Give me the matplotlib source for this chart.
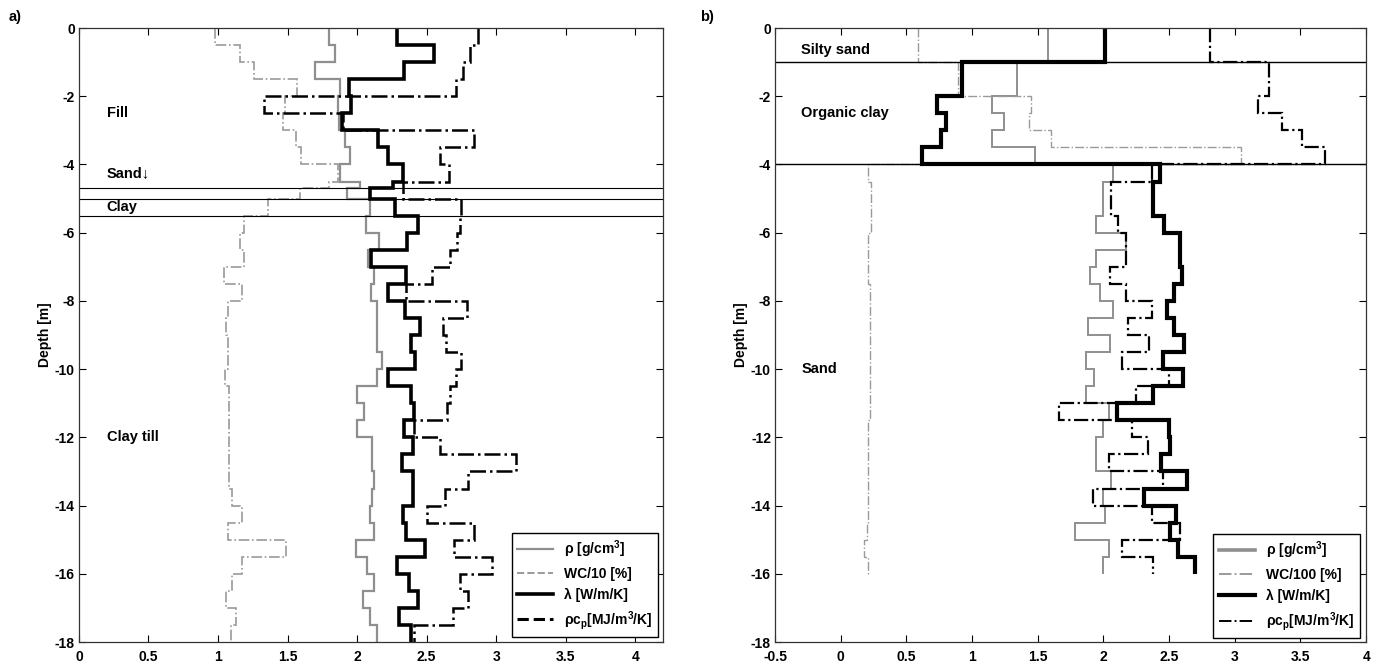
import numpy as np
import matplotlib
matplotlib.use('Agg')
import matplotlib.pyplot as plt
from matplotlib.lines import Line2D

plt.rcParams['font.family'] = ['Liberation Sans Narrow', 'Liberation Sans', 'DejaVu Sans']
plt.rcParams['font.weight'] = 'bold'
plt.rcParams['axes.labelweight'] = 'bold'
plt.rcParams['font.size'] = 10

# ---- panel a: depth intervals [m] and measured profiles ----
edges_a = [0, -0.5, -1, -1.5, -2, -2.5, -3, -3.5, -4, -4.5, -4.7, -5, -5.5,
           -6, -6.5, -7, -7.5, -8, -8.5, -9, -9.5, -10, -10.5, -11, -11.5,
           -12, -12.5, -13, -13.5, -14, -14.5, -15, -15.5, -16, -16.5, -17,
           -17.5, -18]
rho_a = [1.80, 1.84, 1.70, 1.88, 1.86, 1.87, 1.91, 1.95, 1.88, 2.02, 1.93,
         2.09, 2.065, 2.16, 2.08, 2.12, 2.10, 2.14, 2.14, 2.14, 2.18, 2.14,
         2.00, 2.05, 2.00, 2.11, 2.11, 2.12, 2.11, 2.09, 2.12, 1.99, 2.07,
         2.12, 2.04, 2.09, 2.14]
wc_a = [0.98, 1.16, 1.26, 1.57, 1.48, 1.47, 1.56, 1.60, 1.86, 1.80, 1.59,
        1.36, 1.19, 1.16, 1.19, 1.04, 1.17, 1.07, 1.06, 1.07, 1.07, 1.05,
        1.08, 1.08, 1.08, 1.08, 1.08, 1.08, 1.10, 1.17, 1.07, 1.49, 1.17,
        1.10, 1.06, 1.13, 1.09]
lam_a = [2.29, 2.55, 2.34, 1.945, 1.96, 1.89, 2.15, 2.22, 2.33, 2.26, 2.09,
         2.27, 2.44, 2.36, 2.10, 2.35, 2.225, 2.345, 2.45, 2.39, 2.42, 2.225,
         2.385, 2.41, 2.34, 2.405, 2.32, 2.40, 2.40, 2.33, 2.35, 2.49, 2.285,
         2.37, 2.44, 2.30, 2.39]
cp_a = [2.87, 2.81, 2.76, 2.71, 1.33, 1.90, 2.84, 2.60, 2.66, 2.33, 2.33,
        2.75, 2.74, 2.72, 2.67, 2.54, 2.35, 2.79, 2.62, 2.64, 2.75, 2.71,
        2.67, 2.65, 2.41, 2.60, 3.14, 2.80, 2.63, 2.50, 2.84, 2.70, 2.97,
        2.74, 2.80, 2.69, 2.41]
layers_a = [-4.7, -5.0, -5.5]
labels_a = [('Fill', -2.5), ('Sand\u2193', -4.45), ('Clay', -5.25), ('Clay till', -12.0)]

# ---- panel b ----
edges_b = [0, -1, -2, -2.5, -3, -3.5, -4, -4.5, -5, -5.5, -6, -6.5, -7,
           -7.5, -8, -8.5, -9, -9.5, -10, -10.5, -11, -11.5, -12, -12.5,
           -13, -13.5, -14, -14.5, -15, -15.5, -16]
rho_b = [1.58, 1.34, 1.15, 1.245, 1.15, 1.48, 2.07, 2.00, 2.00, 1.94, 2.17,
         1.94, 1.90, 1.975, 2.07, 1.885, 2.05, 1.87, 1.93, 1.87, 2.04, 2.00,
         1.94, 1.94, 2.06, 2.00, 2.01, 1.78, 2.04, 2.00]
wc_b = [0.59, 0.89, 1.445, 1.435, 1.60, 3.05, 0.21, 0.23, 0.23, 0.23, 0.21,
        0.21, 0.21, 0.22, 0.22, 0.22, 0.22, 0.22, 0.22, 0.22, 0.22, 0.21,
        0.21, 0.21, 0.21, 0.21, 0.21, 0.20, 0.18, 0.21]
lam_b = [2.01, 0.92, 0.73, 0.80, 0.76, 0.615, 2.43, 2.375, 2.375, 2.46,
         2.58, 2.58, 2.595, 2.54, 2.48, 2.54, 2.61, 2.45, 2.605, 2.375, 2.10,
         2.50, 2.51, 2.44, 2.635, 2.31, 2.555, 2.51, 2.57, 2.70]
cp_b = [2.81, 3.26, 3.18, 3.36, 3.51, 3.69, 2.37, 2.06, 2.06, 2.11, 2.17,
        2.17, 2.05, 2.17, 2.37, 2.19, 2.35, 2.14, 2.50, 2.25, 1.665, 2.22,
        2.34, 2.04, 2.45, 1.92, 2.37, 2.58, 2.14, 2.375]
layers_b = [-1.0, -4.0]
labels_b = [('Silty sand', -0.65), ('Organic clay', -2.5), ('Sand', -10.0)]

GREY = '#8f8f8f'

fig = plt.figure(figsize=(13.78, 6.62), dpi=100)
ax_a = fig.add_axes([0.0573, 0.0302, 0.4238, 0.9275])
ax_b = fig.add_axes([0.5625, 0.0302, 0.4289, 0.9275])


def profile(ax, edges, vals, **kw):
    ax.stairs(vals, edges, orientation='horizontal', baseline=None, **kw)


# panel a
profile(ax_a, edges_a, rho_a, color=GREY, lw=1.6)
profile(ax_a, edges_a, wc_a, color='#9a9a9a', lw=1.2, linestyle='-.')
profile(ax_a, edges_a, lam_a, color='black', lw=2.6)
profile(ax_a, edges_a, cp_a, color='black', lw=1.8, linestyle='-.')
for d in layers_a:
    ax_a.axhline(d, color='black', lw=0.8)
for txt, d in labels_a:
    ax_a.text(0.2, d, txt, va='bottom' if txt.startswith('Sand') else 'center',
              ha='left', fontsize=10.5)
ax_a.set_xlim(0, 4.2)
ax_a.set_xticks(np.arange(0, 4.01, 0.5))
ax_a.set_xticklabels(['0', '0.5', '1', '1.5', '2', '2.5', '3', '3.5', '4'])

handles_a = [
    Line2D([], [], color=GREY, lw=1.6),
    Line2D([], [], color='#9a9a9a', lw=1.4, linestyle='--'),
    Line2D([], [], color='black', lw=2.6),
    Line2D([], [], color='black', lw=2.2, linestyle='--'),
]
leg_labels_a = ['\u03c1 [g/cm$^\\mathregular{3}$]', 'WC/10 [%]', '\u03bb [W/m/K]',
                '\u03c1c$_\\mathregular{p}$[MJ/m$^\\mathregular{3}$/K]']
ax_a.legend(handles_a, leg_labels_a, loc='lower right', bbox_to_anchor=(0.992, 0.008),
            fancybox=False, edgecolor='black', framealpha=1, handlelength=2.6,
            borderaxespad=0, fontsize=10, labelspacing=0.5)

# panel b
profile(ax_b, edges_b, rho_b, color=GREY, lw=1.4)
profile(ax_b, edges_b, wc_b, color='#9a9a9a', lw=1.0, linestyle='-.')
profile(ax_b, edges_b, lam_b, color='black', lw=3.0)
profile(ax_b, edges_b, cp_b, color='black', lw=1.6, linestyle='-.')
for d in layers_b:
    ax_b.axhline(d, color='black', lw=1.0)
for txt, d in labels_b:
    ax_b.text(-0.3, d, txt, va='center', ha='left', fontsize=10.5)
ax_b.set_xlim(-0.5, 4)
ax_b.set_xticks(np.arange(-0.5, 4.01, 0.5))
ax_b.set_xticklabels(['-0.5', '0', '0.5', '1', '1.5', '2', '2.5', '3', '3.5', '4'])

handles_b = [
    Line2D([], [], color=GREY, lw=2.6),
    Line2D([], [], color='#9a9a9a', lw=1.4, linestyle='-.'),
    Line2D([], [], color='black', lw=3.0),
    Line2D([], [], color='black', lw=1.4, linestyle='-.'),
]
leg_labels_b = ['\u03c1 [g/cm$^\\mathregular{3}$]', 'WC/100 [%]', '\u03bb [W/m/K]',
                '\u03c1c$_\\mathregular{p}$[MJ/m$^\\mathregular{3}$/K]']
ax_b.legend(handles_b, leg_labels_b, loc='lower right', bbox_to_anchor=(0.99, 0.006),
            fancybox=False, edgecolor='black', framealpha=1, handlelength=2.6,
            borderaxespad=0, fontsize=10, labelspacing=0.5)

for ax in (ax_a, ax_b):
    ax.set_ylim(-18, 0)
    ax.set_yticks(np.arange(-18, 0.1, 2))
    ax.set_yticklabels(['-%d' % -v if v else '0' for v in range(-18, 1, 2)])
    ax.set_ylabel('Depth [m]', fontsize=10, fontweight='bold', labelpad=2)
    ax.tick_params(direction='in', top=True, right=True, length=5, width=0.8,
                   labelsize=10)
    ax.tick_params(axis='x', pad=6)
    ax.tick_params(axis='y', pad=3)
    for s in ax.spines.values():
        s.set_linewidth(0.9)
        s.set_color('#333333')

fig.text(0.006, 0.985, 'a)', fontsize=10.5, va='top')
fig.text(0.508, 0.985, 'b)', fontsize=10.5, va='top')

fig.savefig('out.png', dpi=100, facecolor='white')
